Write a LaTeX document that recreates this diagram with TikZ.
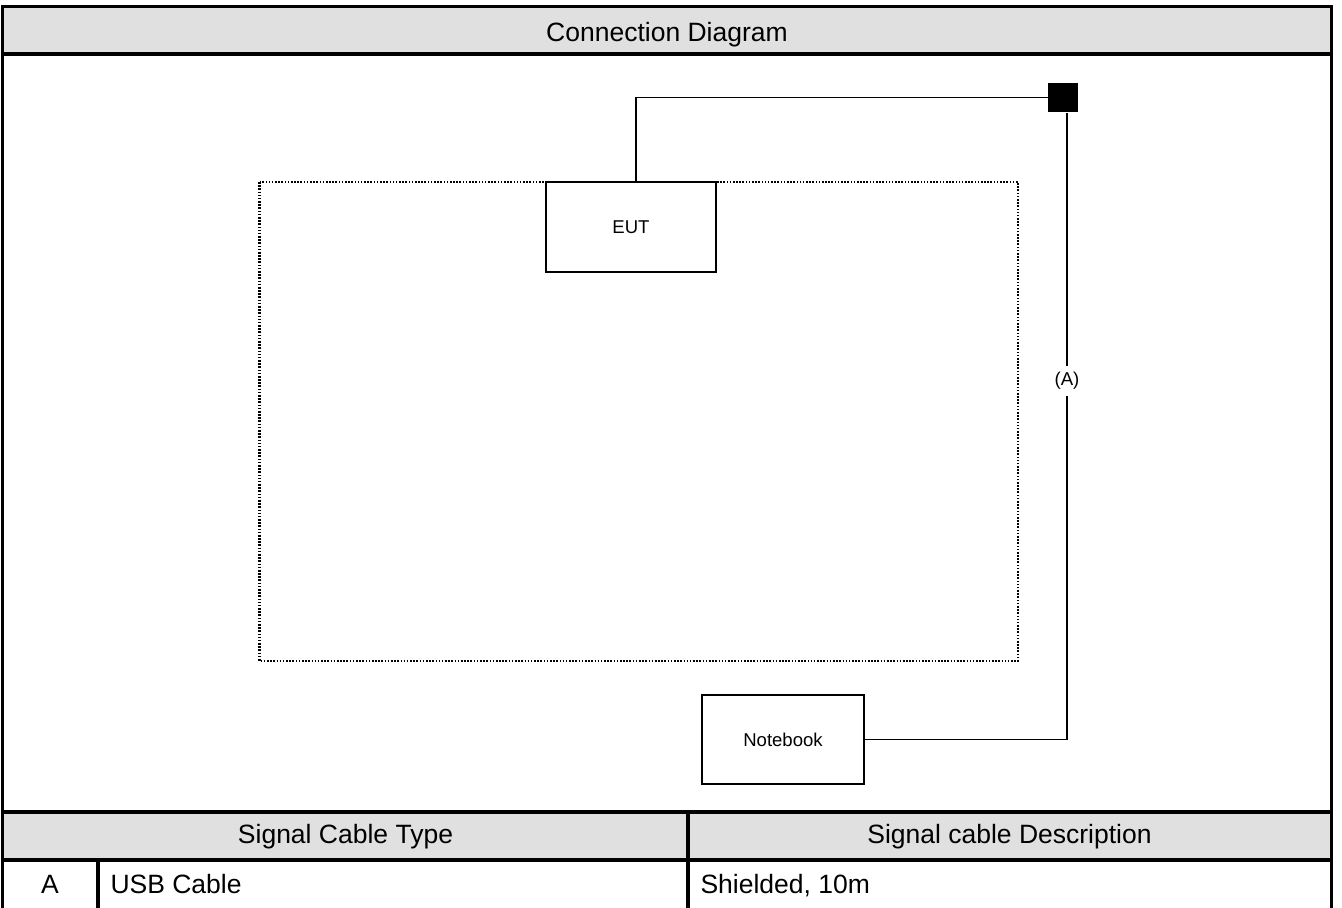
\documentclass[tikz,border=0pt]{standalone}
\usepackage{fontspec}
\setmainfont{Liberation Sans}
\usetikzlibrary{positioning}

\begin{document}
\begin{tikzpicture}
[x=0.3774pt,y=-0.3774pt,every node/.style={font=\fontsize{7}{8}\selectfont},
 unit/.style={draw,line width=0.5pt,minimum width=64.2pt,minimum height=34pt,inner sep=0pt},
 tab/.style={font=\fontsize{10}{12}\selectfont,anchor=base,inner sep=0pt},
 frame/.style={line width=1.15pt},
 cable/.style={line width=0.45pt}]

\useasboundingbox (0,0) rectangle (1342,908);

\fill[black!12] (2.5,6.5) rectangle (1331,54);
\fill[black!12] (2.5,812) rectangle (1331,860);
\draw[frame] (2.5,908) -- (2.5,6.5) -- (1331,6.5) -- (1331,908);
\draw[frame] (2.5,54) -- (1331,54);
\draw[frame] (2.5,812) -- (1331,812);
\draw[frame] (2.5,860) -- (1331,860);
\draw[frame] (688,812) -- (688,908);
\draw[frame] (98,860) -- (98,908);

\node[tab] (title) at (667,41.5) {Connection Diagram};
\node[tab] (typehd) at (345.5,843) {Signal Cable Type};
\node[tab] (deschd) at (1009.5,843) {Signal cable Description};
\node[tab] (idA) at (50,893) {A};
\node[tab,anchor=base west] (typeA) at (110,893) {USB Cable};
\node[tab,anchor=base west] (descA) at (700,893) {Shielded, 10m};

\draw[line width=0.9pt,dash pattern=on 0.6pt off 0.6pt] (259.5,182) rectangle (1018,661);
\node[unit,fill=white] (eut) at (631,227) {EUT};
\node[unit,minimum width=61.1pt,minimum height=33.6pt] (nb) at (783,739.5) {Notebook};
\node[fill=black,minimum size=11.2pt,inner sep=0pt] (ferrite) at (1063,97.5) {};

\draw[cable] ([xshift=1.9pt]eut.north) |- (ferrite.west);
\draw[cable] (nb.east) -| node[pos=0.786,fill=white,inner sep=2.5pt] {(A)} ([xshift=1.5pt]ferrite.south);
\end{tikzpicture}
\end{document}
